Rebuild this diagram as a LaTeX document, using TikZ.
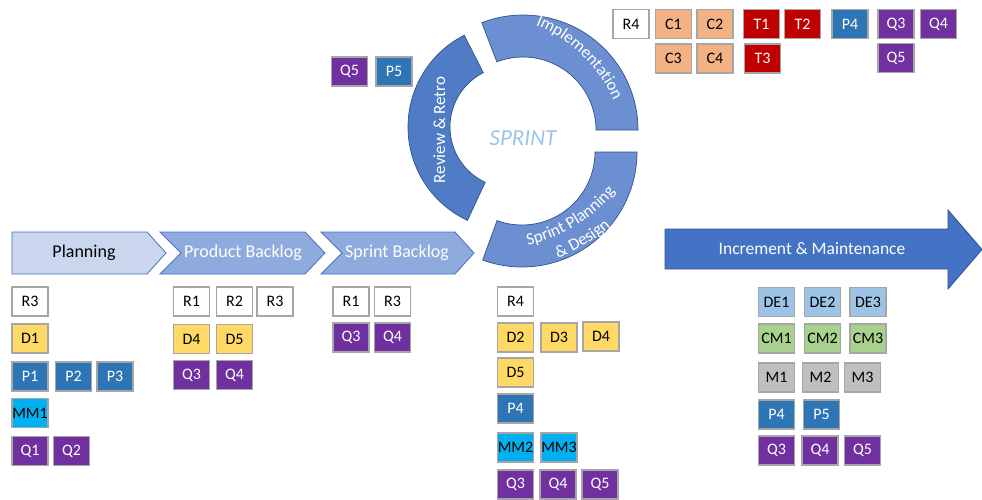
\documentclass[tikz,border=0pt]{standalone}
\usepackage{fontspec}
\setmainfont{Carlito}
\usetikzlibrary{decorations.text}

\definecolor{tagedge}{HTML}{A6A6A6}
\definecolor{rfill}{HTML}{FFFFFF}
\definecolor{cfill}{HTML}{F4B183}
\definecolor{tfill}{HTML}{C00000}
\definecolor{pfill}{HTML}{2E75B6}
\definecolor{qfill}{HTML}{7030A0}
\definecolor{dfill}{HTML}{FFD966}
\definecolor{mmfill}{HTML}{00B0F0}
\definecolor{defill}{HTML}{9DC3E6}
\definecolor{cmfill}{HTML}{A9D18E}
\definecolor{mfill}{HTML}{BFBFBF}
\definecolor{chevlight}{HTML}{CAD6EE}
\definecolor{chevmid}{HTML}{8FAADC}
\definecolor{chevedge}{HTML}{4672C0}
\definecolor{ringdark}{HTML}{507CC6}
\definecolor{ringmid}{HTML}{6C8FD2}
\definecolor{ringedge}{HTML}{2F528F}
\definecolor{incfill}{HTML}{4472C4}
\definecolor{sprinttxt}{HTML}{9DC3E6}

\newcommand\segfont{\fontsize{17}{20}\selectfont}

\tikzset{
  x=1pt, y=-1pt,
  tag/.style={draw=tagedge, line width=1.1pt, minimum width=36pt, minimum height=29pt,
    inner sep=0pt, font=\fontsize{16}{19}\selectfont, text=black},
  rtag/.style={tag, fill=rfill},
  ctag/.style={tag, fill=cfill},
  ttag/.style={tag, fill=tfill, text=white},
  ptag/.style={tag, fill=pfill, text=white},
  qtag/.style={tag, fill=qfill, text=white},
  dtag/.style={tag, fill=dfill},
  mmtag/.style={tag, fill=mmfill},
  detag/.style={tag, fill=defill},
  cmtag/.style={tag, fill=cmfill},
  mtag/.style={tag, fill=mfill},
  chevron/.style={draw=chevedge, line width=0.8pt, line join=miter},
  ringseg/.style={draw=ringedge, line width=0.7pt},
  phase/.style={font=\fontsize{18}{21}\selectfont},
  arclabel/.style={decorate, decoration={text along path, text align=center, text color=white}},
}

\begin{document}
\begin{tikzpicture}
\useasboundingbox (0,0) rectangle (982,499);

% ---------- phase chevrons ----------
\path[chevron, fill=chevlight] (12,232) -- (147,232) -- (166,253) -- (147,274) -- (12,274) -- cycle;
\path[chevron, fill=chevmid] (160,232) -- (305,232) -- (325,253) -- (305,274) -- (160,274) -- (181,253) -- cycle;
\path[chevron, fill=chevmid] (321,232) -- (455,232) -- (474,253) -- (455,274) -- (321,274) -- (342,253) -- cycle;
\node[phase, text=black] (planning) at (84,253) {Planning};
\node[phase, text=white] (prodback) at (243,253) {Product Backlog};
\node[phase, text=white] (sprback) at (397,253) {Sprint Backlog};

% ---------- increment arrow ----------
\path[draw=ringedge, line width=0.8pt, fill=incfill]
  (665,229) -- (948,229) -- (948,210) -- (982,249.5) -- (948,289) -- (948,269) -- (665,269) -- cycle;
\node[font=\fontsize{17.5}{21}\selectfont, text=white] (increment) at (812,249) {Increment \& Maintenance};

% ---------- sprint cycle ----------
\coordinate (cRev) at (511,127);
\coordinate (cImp) at (523,130);
\coordinate (cSpr) at (522,152);
% centres of the gently bent label baselines
\coordinate (tImp) at (482,159);
\coordinate (tSpr) at (493.5,91);

\path[ringseg, fill=ringdark] ([shift={(117:103pt)}]cRev) arc[start angle=117, end angle=245, radius=103pt]
  -- ([shift={(245:61pt)}]cRev) arc[start angle=245, end angle=117, radius=61pt] -- cycle;
\path[ringseg, fill=ringmid] ([shift={(0:115pt)}]cImp) arc[start angle=0, end angle=111, radius=115pt]
  -- ([shift={(111:73pt)}]cImp) arc[start angle=111, end angle=0, radius=73pt] -- cycle;
\path[ringseg, fill=ringmid] ([shift={(250:115pt)}]cSpr) arc[start angle=250, end angle=360, radius=115pt]
  -- ([shift={(360:73pt)}]cSpr) arc[start angle=360, end angle=250, radius=73pt] -- cycle;

\node[rotate=90, anchor=base, text=white, font=\fontsize{17}{20}\selectfont] (review) at (445,130) {Review \& Retro};
\path[arclabel, decoration={text={|\segfont|Implementation}}]
  ([shift={(86:144pt)}]tImp) arc[start angle=86, end angle=6, radius=144pt];
\path[arclabel, decoration={text={|\segfont|Sprint Planning}}]
  ([shift={(261.5:158pt)}]tSpr) arc[start angle=261.5, end angle=341.5, radius=158pt];
\path[arclabel, decoration={text={|\segfont|{\&} Design}}]
  ([shift={(261:179pt)}]tSpr) arc[start angle=261, end angle=341, radius=179pt];

\node[font=\fontsize{23}{26}\itshape\selectfont, text=sprinttxt] (sprint) at (523,138) {SPRINT};

% ---------- items beside the cycle ----------
\node[qtag] (cyQ5) at (349.5,71.5) {Q5};
\node[ptag] (cyP5) at (394,71.5) {P5};

% ---------- implementation items ----------
\node[rtag] (imR4) at (631,24) {R4};
\node[ctag] (imC1) at (673.5,24) {C1};
\node[ctag] (imC2) at (715,24) {C2};
\node[ttag] (imT1) at (761.5,24) {T1};
\node[ttag] (imT2) at (802.5,24) {T2};
\node[ptag] (imP4) at (850,24) {P4};
\node[qtag] (imQ3) at (896,24) {Q3};
\node[qtag] (imQ4) at (938.5,24) {Q4};
\node[ctag] (imC3) at (673.5,58.5) {C3};
\node[ctag] (imC4) at (715,58.5) {C4};
\node[ttag] (imT3) at (762.5,58.5) {T3};
\node[qtag] (imQ5) at (896,58) {Q5};

% ---------- planning items ----------
\node[rtag] (plR3) at (30,301.5) {R3};
\node[dtag] (plD1) at (30,338.5) {D1};
\node[ptag] (plP1) at (30,376.5) {P1};
\node[ptag] (plP2) at (73.5,376.5) {P2};
\node[ptag] (plP3) at (115,376.5) {P3};
\node[mmtag] (plMM1) at (30,413) {MM1};
\node[qtag] (plQ1) at (30,451) {Q1};
\node[qtag] (plQ2) at (71.5,451) {Q2};

% ---------- product backlog items ----------
\node[rtag] (pbR1) at (191.5,301.5) {R1};
\node[rtag] (pbR2) at (234.5,301.5) {R2};
\node[rtag] (pbR3) at (275,301.5) {R3};
\node[dtag] (pbD4) at (191.5,339) {D4};
\node[dtag] (pbD5) at (234.5,339) {D5};
\node[qtag] (pbQ3) at (191.5,375) {Q3};
\node[qtag] (pbQ4) at (234.5,375) {Q4};

% ---------- sprint backlog items ----------
\node[rtag] (sbR1) at (351,301.5) {R1};
\node[rtag] (sbR3) at (392.5,301.5) {R3};
\node[qtag] (sbQ3) at (351,337.5) {Q3};
\node[qtag] (sbQ4) at (392.5,337.5) {Q4};

% ---------- sprint planning items ----------
\node[rtag] (spR4) at (515.5,301.5) {R4};
\node[dtag] (spD2) at (515.5,337.5) {D2};
\node[dtag] (spD3) at (559,337.5) {D3};
\node[dtag] (spD4) at (601,336.5) {D4};
\node[dtag] (spD5) at (515.5,372.5) {D5};
\node[ptag] (spP4) at (515.5,408.5) {P4};
\node[mmtag] (spMM2) at (515.5,447.5) {MM2};
\node[mmtag] (spMM3) at (559,447.5) {MM3};
\node[qtag] (spQ3) at (515.5,484.5) {Q3};
\node[qtag] (spQ4) at (558,484.5) {Q4};
\node[qtag] (spQ5) at (600,484.5) {Q5};

% ---------- increment items ----------
\node[detag] (inDE1) at (776.5,302) {DE1};
\node[detag] (inDE2) at (822.5,302) {DE2};
\node[detag] (inDE3) at (868,302) {DE3};
\node[cmtag] (inCM1) at (776.5,338.5) {CM1};
\node[cmtag] (inCM2) at (822.5,338.5) {CM2};
\node[cmtag] (inCM3) at (868,338.5) {CM3};
\node[mtag] (inM1) at (776.5,377.5) {M1};
\node[mtag] (inM2) at (820.5,377.5) {M2};
\node[mtag] (inM3) at (862.5,377.5) {M3};
\node[ptag] (inP4) at (776.5,414.5) {P4};
\node[ptag] (inP5) at (821.5,414.5) {P5};
\node[qtag] (inQ3) at (776.5,450.5) {Q3};
\node[qtag] (inQ4) at (820,450.5) {Q4};
\node[qtag] (inQ5) at (862.5,450.5) {Q5};
\end{tikzpicture}
\end{document}
